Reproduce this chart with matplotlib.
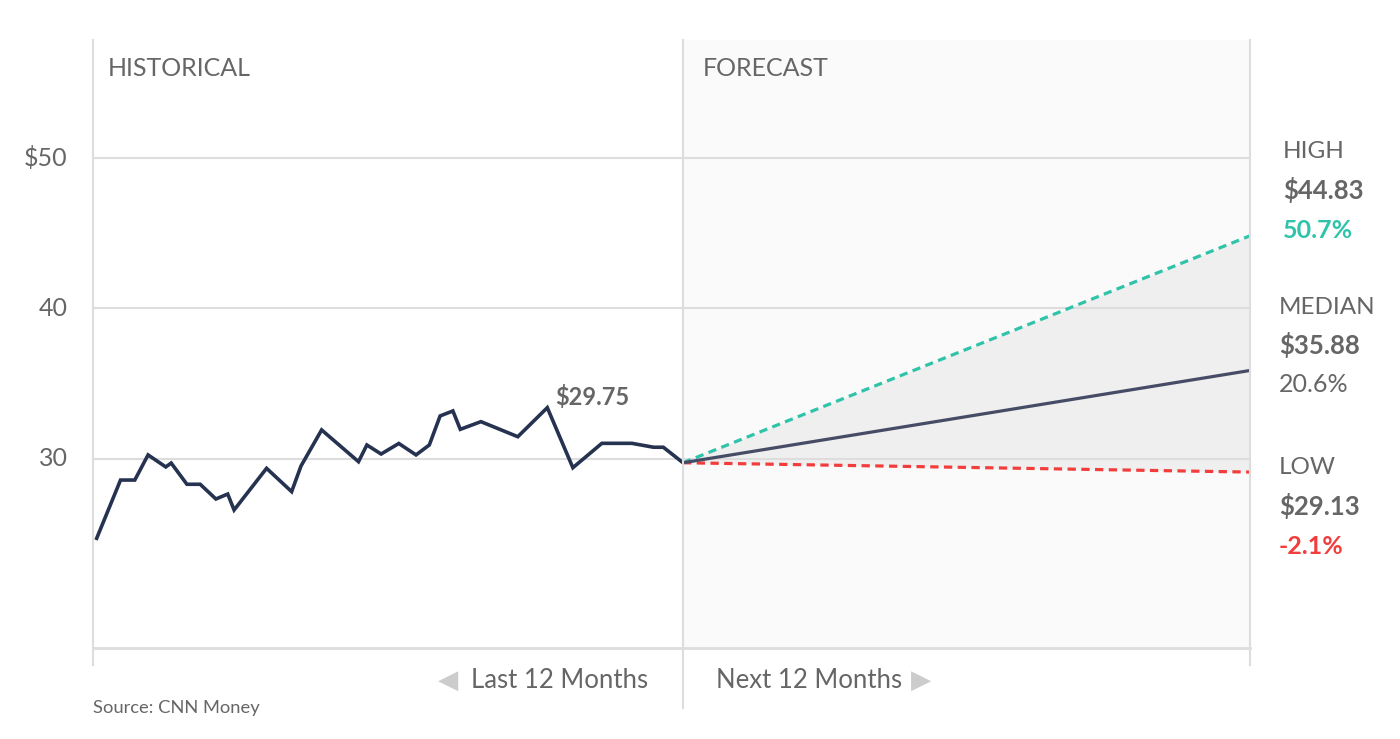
import matplotlib
matplotlib.use("Agg")
import matplotlib.pyplot as plt
from matplotlib.lines import Line2D

plt.rcParams['font.family'] = ['Lato', 'DejaVu Sans']

# ---- data ----
hist_months = [0.075, 0.56, 0.85, 1.12, 1.48, 1.59, 1.91, 2.18, 2.50, 2.74, 2.87,
               3.53, 4.04, 4.23, 4.65, 5.40, 5.57, 5.86, 6.22, 6.57, 6.84, 7.06,
               7.32, 7.47, 7.89, 8.64, 9.24, 9.76, 10.35, 10.96, 11.40, 11.60, 12.0]
hist_price = [24.73, 28.60, 28.60, 30.27, 29.47, 29.73, 28.32, 28.32, 27.34, 27.67, 26.61,
              29.38, 27.83, 29.53, 31.93, 29.82, 30.93, 30.33, 31.03, 30.27, 30.93, 32.86,
              33.19, 31.97, 32.48, 31.48, 33.41, 29.42, 31.04, 31.04, 30.78, 30.78, 29.75]
fc_months = [12, 24]
fc_high = [29.75, 44.83]
fc_median = [29.75, 35.88]
fc_low = [29.75, 29.13]
y_ticks = [30, 40, 50]
y_tick_labels = ["30", "40", "$50"]
last_price_label = "$29.75"
summary = [("HIGH", "$44.83", "50.7%"), ("MEDIAN", "$35.88", "20.6%"), ("LOW", "$29.13", "-2.1%")]

# ---- style ----
W, H = 1400, 739
GRID = "#dddddd"
TXT = "#666666"
NAVY = "#263350"
MED = "#474c66"
TEAL = "#2fc4aa"
RED = "#f23d3d"
YMIN, YMAX = 17.44, 57.84

fig = plt.figure(figsize=(W / 100, H / 100), dpi=100)
fig.patch.set_facecolor("white")

def fx(px):
    return px / W

def fy(py):
    return 1 - py / H

top, bot = 40, 648
axL = fig.add_axes([fx(93), fy(bot), fx(683 - 93), fy(top) - fy(bot)])
axR = fig.add_axes([fx(683), fy(bot), fx(1250 - 683), fy(top) - fy(bot)], sharey=axL)

for ax in (axL, axR):
    ax.set_ylim(YMIN, YMAX)
    for s in ax.spines.values():
        s.set_visible(False)
    ax.tick_params(left=False, bottom=False, labelleft=False, labelbottom=False)
    for yv in y_ticks:
        ax.axhline(yv, color=GRID, lw=1.5, zorder=1)
    ax.axhline(YMIN, color=GRID, lw=2, zorder=1, clip_on=False)

axL.set_facecolor("white")
axR.set_facecolor("#fafafa")
axL.set_xlim(0, 12)
axR.set_xlim(12, 24)

# historical line
axL.plot(hist_months, hist_price, color=NAVY, lw=2.6, solid_joinstyle="miter", zorder=3)

# forecast
axR.fill_between(fc_months, fc_low, fc_high, color="#efefef", lw=0, zorder=0.5)
axR.plot(fc_months, fc_high, color=TEAL, lw=2.3, linestyle=(0, (2.6, 1.7)), zorder=3)
axR.plot(fc_months, fc_low, color=RED, lw=2.3, linestyle=(0, (2.6, 1.7)), zorder=3)
axR.plot(fc_months, fc_median, color=MED, lw=2.3, zorder=4)

# vertical frame lines (figure coordinates)
for px, y2 in [(93, 665), (683, 708), (1250, 665)]:
    fig.add_artist(Line2D([fx(px), fx(px)], [fy(40), fy(y2)], color=GRID, lw=1.5))

# y tick labels
for yv, lab in zip(y_ticks, y_tick_labels):
    axL.text(-0.043, yv, lab, transform=axL.get_yaxis_transform(), ha="right", va="center",
             fontsize=18, color=TXT)

# panel titles
fig.text(fx(108), fy(68), "HISTORICAL", fontsize=18, color=TXT, va="center", ha="left")
fig.text(fx(703), fy(68), "FORECAST", fontsize=18, color=TXT, va="center", ha="left")

# last price label
axL.annotate(last_price_label, xy=(hist_months[-1], hist_price[-1]), xycoords="data",
             xytext=(fx(555), fy(397)), textcoords="figure fraction",
             fontsize=17, fontweight="bold", color=TXT, ha="left", va="center")

# right summary labels
colors_pct = [TEAL, TXT, RED]
weights_pct = ["bold", "normal", "bold"]
xs = [1283, 1279, 1279]
ys = [152, 307, 468]
for (name, price, pct), c, w, xx, yy in zip(summary, colors_pct, weights_pct, xs, ys):
    fig.text(fx(xx), fy(yy), name, fontsize=17.5, color=TXT, va="center", ha="left")
    fig.text(fx(xx), fy(yy + 38), price, fontsize=18.5, color=TXT, fontweight="bold", va="center", ha="left")
    fig.text(fx(xx), fy(yy + 78), pct, fontsize=18, color=c, fontweight=w, va="center", ha="left")

# bottom labels
fig.text(fx(648), fy(680), "Last 12 Months", fontsize=18.5, color=TXT, ha="right", va="center")
fig.text(fx(716), fy(680), "Next 12 Months", fontsize=18.5, color=TXT, ha="left", va="center")
fig.text(fx(448), fy(681), "◀", family="DejaVu Sans", fontsize=19, color="#cccccc", ha="center", va="center")
fig.text(fx(921), fy(681), "▶", family="DejaVu Sans", fontsize=19, color="#cccccc", ha="center", va="center")

fig.text(fx(93), fy(708), "Source: CNN Money", fontsize=13.2, color=TXT, ha="left", va="center")

fig.savefig("out.png", dpi=100, facecolor="white")
